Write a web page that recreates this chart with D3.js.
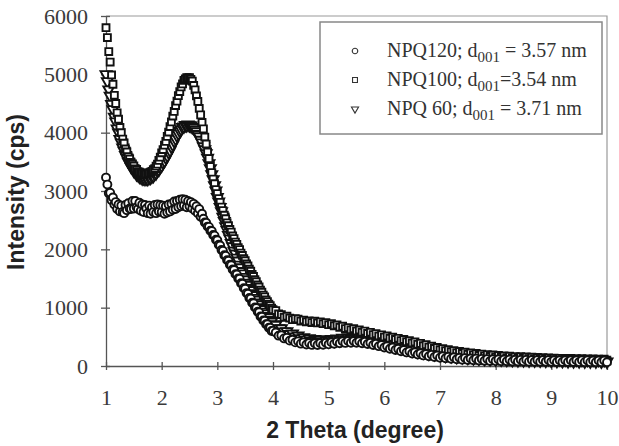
<!DOCTYPE html>
<html>
<head>
<meta charset="utf-8">
<script src="https://cdn.jsdelivr.net/npm/d3@7"></script>
<style>
  body { margin: 0; background: #fff; }
  text { font-family: "Liberation Serif", "Times New Roman", serif; }
  .title { font-family: "Liberation Sans", Arial, sans-serif; font-weight: bold; }
</style>
</head>
<body>
<svg width="619" height="446"></svg>
<script>
// scan grid: 0.025 deg steps up to 4 deg, 0.05 deg steps after
var theta = d3.range(0, 121).map(function(i) { return 1 + i * 0.025; })
  .concat(d3.range(1, 121).map(function(i) { return 4 + i * 0.05; }));

var xTicks = [1, 2, 3, 4, 5, 6, 7, 8, 9, 10];
var yTicks = [0, 1000, 2000, 3000, 4000, 5000, 6000];

// NPQ100 (squares)
var npq100 = [
  5800,5630,5390,5210,4990,4830,4640,4500,4340,4230, 4090,4000,3890,3820,3720,3670,3590,3550,3490,3460,
  3430,3380,3370,3330,3325,3300,3310,3285,3295,3290, 3305,3305,3325,3335,3365,3385,3425,3460,3525,3580,
  3655,3710,3785,3850,3935,4010,4105,4185,4285,4365, 4465,4540,4635,4705,4785,4835,4895,4920,4945,4940,
  4945,4915,4885,4810,4735,4630,4535,4415,4305,4175, 4065,3925,3805,3670,3555,3420,3315,3205,3125,3025,
  2955,2870,2805,2725,2665,2585,2525,2455,2405,2340, 2295,2230,2185,2125,2085,2030,1995,1935,1895,1840,
  1805,1750,1715,1660,1625,1570,1535,1480,1445,1390, 1355,1300,1265,1215,1185,1135,1105,1060,1035,990,
  965,
  950,893,881,836,854,821,794,812,804,770, 787,758,771,744,769,738,757,726,744,708,
  726,690,704,664,682,642,657,620,638,600, 618,580,598,558,577,538,555,516,534,496,
  514,476,494,456,474,436,454,416,434,396, 412,372,388,348,364,324,340,301,318,280,
  298,261,280,244,264,228,249,214,236,202, 224,191,214,181,204,172,196,164,188,156,
  180,149,174,143,168,137,162,132,158,128, 154,124,150,120,146,116,142,112,138,108,
  134,105,132,103,130,101,128,99,126,97, 124,95,122,93,120,91,118,89,116,87
];

// NPQ 60 (triangles)
var npq60 = [
  5000,4880,4740,4630,4490,4400,4270,4190,4070,4000, 3890,3830,3745,3690,3615,3570,3505,3470,3415,3390,
  3345,3325,3285,3275,3245,3240,3215,3220,3205,3215, 3205,3225,3225,3250,3255,3290,3305,3345,3365,3410,
  3435,3485,3515,3570,3605,3660,3695,3755,3795,3855, 3895,3950,3985,4030,4055,4095,4105,4130,4125,4140,
  4125,4120,4095,4080,4045,4020,3975,3935,3875,3830, 3765,3715,3645,3570,3475,3390,3285,3200,3095,3005,
  2895,2820,2725,2650,2555,2485,2395,2330,2245,2185, 2105,2050,1975,1925,1855,1805,1735,1690,1625,1585,
  1525,1485,1425,1390,1335,1300,1245,1215,1165,1135, 1085,1055,1005,975,930,900,855,830,785,760,
  715,
  705,645,645,590,595,545,555,505,520,475, 493,453,473,435,460,425,453,422,453,425,
  459,434,470,446,482,457,491,464,495,465, 493,459,483,445,466,426,445,403,421,379,
  397,355,373,331,350,309,328,287,307,267, 287,248,269,231,253,215,238,201,224,188,
  212,176,201,166,191,156,182,148,174,140, 166,133,160,127,154,121,149,117,145,113,
  141,109,137,105,133,102,131,100,129,98, 127,96,125,94,123,92,121,90,119,88,
  117,86,115,84,113,82,111,80,110,79, 108,78,107,77,106,76,105,75,104,74
];

// NPQ120 (circles)
var npq120 = [
  3230,3110,2960,2970,2840,2890,2770,2810,2690,2770, 2650,2750,2640,2620,2760,2670,2790,2700,2690,2830,
  2700,2830,2720,2690,2800,2660,2770,2640,2760,2700, 2620,2750,2610,2720,2640,2760,2620,2770,2650,2760,
  2640,2750,2610,2740,2630,2770,2650,2780,2680,2820, 2690,2830,2720,2850,2740,2860,2750,2850,2720,2830,
  2740,2810,2700,2780,2660,2740,2620,2690,2560,2610, 2525,2460,2455,2390,2385,2320,2315,2245,2235,2165,
  2155,2080,2065,1990,1975,1900,1890,1815,1805,1735, 1725,1655,1645,1575,1570,1500,1495,1420,1410,1335,
  1325,1250,1240,1165,1155,1085,1075,1005,995,930, 920,850,845,780,775,715,715,655,655,600,
  605,
  575,520,525,473,483,435,449,405,423,383, 405,369,395,362,391,361,392,364,397,371,
  405,380,415,389,423,396,428,399,429,398, 425,391,415,378,400,361,381,340,359,318,
  337,296,315,274,293,253,273,233,254,215, 236,198,220,182,205,168,191,155,179,143,
  168,133,158,124,150,116,142,109,136,103, 130,98,126,94,122,90,118,86,115,84,
  113,82,111,80,109,78,107,77,106,76, 105,75,104,74,103,73,102,72,101,71,
  100,70,99,69,99,68,98,68,97,67, 97,66,96,66,95,65,95,65,94,64
];

var legendNames = ["NPQ120; d", "NPQ100; d", "NPQ 60; d"];
var legendTails = [" = 3.57 nm", "=3.54 nm", " = 3.71 nm"];
var legendSub = "001";

var svg = d3.select("svg"),
  width = +svg.attr("width"),
  height = +svg.attr("height");

svg.append("rect").attr("width", width).attr("height", height).attr("fill", "#fff");

var x = d3.scaleLinear().domain([1, 10]).range([106, 607]);
var y = d3.scaleLinear().domain([0, 6000]).range([366, 16]);

// frame top and right
svg.append("path")
  .attr("d", "M" + x(1) + "," + y(6000) + "H" + x(10) + "V" + y(0))
  .attr("fill", "none")
  .attr("stroke", "#9a9a9a")
  .attr("stroke-width", 1.2);

var xAxis = svg.append("g")
  .attr("transform", "translate(0," + y(0) + ")")
  .call(d3.axisBottom(x).tickValues(xTicks).tickSizeInner(4).tickSizeOuter(0).tickFormat(d3.format("d")));
xAxis.selectAll(".tick line").attr("y1", -4);
xAxis.selectAll(".tick text").attr("y", 23).attr("dy", "0.71em");

var yAxis = svg.append("g")
  .attr("transform", "translate(" + x(1) + ",0)")
  .call(d3.axisLeft(y).tickValues(yTicks).tickSizeInner(5).tickSizeOuter(0).tickFormat(d3.format("d")));
yAxis.selectAll(".tick line").attr("x1", 4);
yAxis.selectAll(".tick text").attr("x", -18);

svg.selectAll(".domain, .tick line").attr("stroke", "#555").attr("stroke-width", 1.3);
svg.selectAll(".tick text")
  .style("font-family", "'Liberation Serif', 'Times New Roman', serif")
  .style("font-size", "22px")
  .attr("fill", "#3a3a3a");

// markers
var triDown = d3.symbol().type(d3.symbolTriangle).size(52)();
var square = d3.symbol().type(d3.symbolSquare).size(48)();
var circle = d3.symbol().type(d3.symbolCircle).size(50)();

var series = [
  { values: npq60, path: triDown, rot: 180 },
  { values: npq100, path: square, rot: 0 },
  { values: npq120, path: circle, rot: 0 }
];

series.forEach(function(s) {
  svg.append("g")
    .selectAll("path")
    .data(s.values)
    .enter().append("path")
    .attr("d", s.path)
    .attr("transform", function(d, i) {
      return "translate(" + x(theta[i]) + "," + y(d) + ") rotate(" + s.rot + ")";
    })
    .attr("fill", "#fff")
    .attr("stroke", "#111")
    .attr("stroke-width", 1.9);
});

// legend
var legend = svg.append("g");
legend.append("rect")
  .attr("x", 320).attr("y", 22).attr("width", 282).attr("height", 112)
  .attr("fill", "#fff").attr("stroke", "#888").attr("stroke-width", 1.5);

var legendMarks = [
  d3.symbol().type(d3.symbolCircle).size(24)(),
  d3.symbol().type(d3.symbolSquare).size(24)(),
  d3.symbol().type(d3.symbolTriangle).size(22)()
];

legendNames.forEach(function(name, i) {
  var cy = 51 + i * 29;
  legend.append("path")
    .attr("d", legendMarks[i])
    .attr("transform", "translate(355," + cy + ") rotate(" + (i == 2 ? 180 : 0) + ")")
    .attr("fill", "#fff").attr("stroke", "#333").attr("stroke-width", 1.1);
  var t = legend.append("text")
    .attr("x", 387).attr("y", cy + 6)
    .attr("fill", "#333")
    .style("font-size", "20px");
  t.append("tspan").text(name);
  t.append("tspan").attr("dy", 5).style("font-size", "15px").text(legendSub);
  t.append("tspan").attr("dy", -5).text(legendTails[i]);
});

// axis titles
svg.append("text")
  .attr("class", "title")
  .attr("transform", "translate(24,192) rotate(-90)")
  .attr("text-anchor", "middle")
  .attr("fill", "#222")
  .style("font-size", "23px")
  .text("Intensity (cps)");

svg.append("text")
  .attr("class", "title")
  .attr("x", 355).attr("y", 438)
  .attr("text-anchor", "middle")
  .attr("fill", "#222")
  .style("font-size", "23px")
  .text("2 Theta (degree)");
</script>
</body>
</html>
